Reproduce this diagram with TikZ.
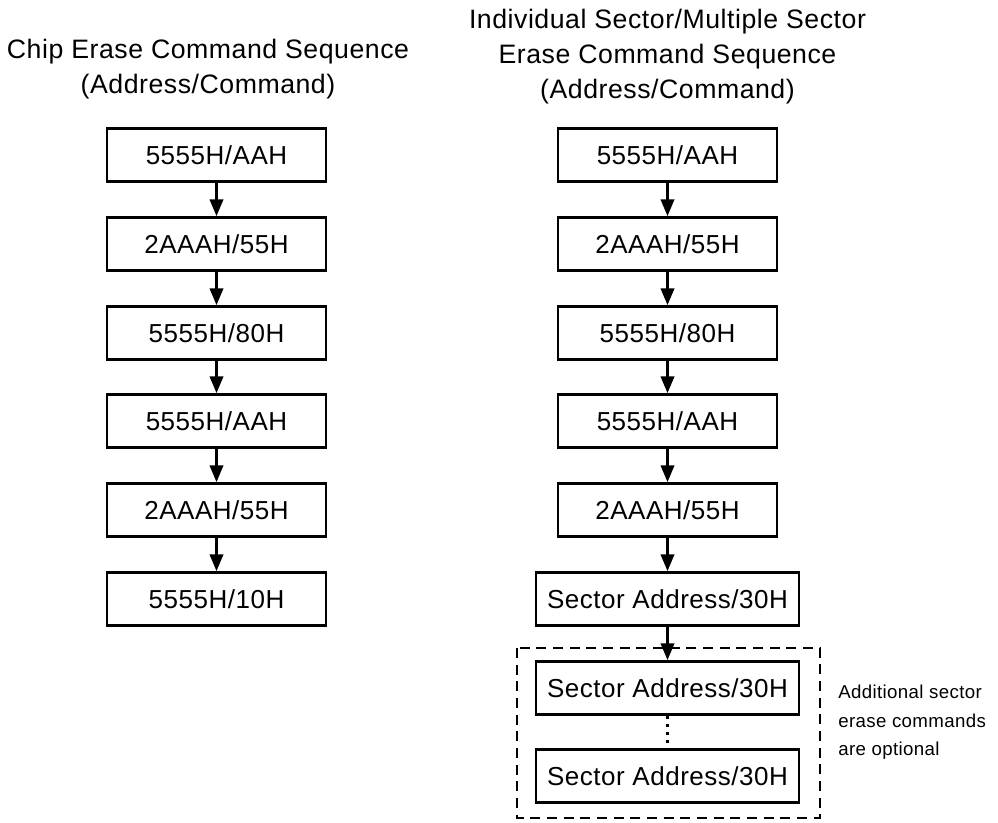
\documentclass[tikz,border=0pt]{standalone}
\usepackage{fontspec}
\setmainfont{Liberation Sans}[LetterSpace=2]
\usetikzlibrary{arrows.meta}
\tikzset{
  cmd/.style={draw, line width=1.8pt, minimum width=164pt, minimum height=40pt, inner sep=0pt, font=\fontsize{19.5}{23}\selectfont},
  sectorcmd/.style={cmd, minimum width=197pt},
  flow/.style={line width=1.8pt, -{Triangle[width=10pt,length=12.5pt]}},
  title/.style={anchor=base, inner sep=0pt, font=\fontsize{20}{24}\selectfont},
  note/.style={anchor=base west, inner sep=0pt, font=\fontsize{14}{17}\selectfont}
}
\begin{document}
\begin{tikzpicture}[x=0.75pt,y=-0.75pt]
\useasboundingbox (0,0) rectangle (998,823);
\node[title] (chiptitle) at (208,59) {Chip Erase Command Sequence};
\node[title] (chipsub) at (208,94) {(Address/Command)};
\node[title] (sectortitle) at (667.5,29) {Individual Sector/Multiple Sector};
\node[title] (sectortitleb) at (667.5,64) {Erase Command Sequence};
\node[title] (sectorsub) at (667.5,99) {(Address/Command)};

\node[cmd] (c1) at (216.5,155) {5555H/AAH};
\node[cmd] (c2) at (216.5,244) {2AAAH/55H};
\node[cmd] (c3) at (216.5,333) {5555H/80H};
\node[cmd] (c4) at (216.5,421) {5555H/AAH};
\node[cmd] (c5) at (216.5,510) {2AAAH/55H};
\node[cmd] (c6) at (216.5,599) {5555H/10H};
\draw[flow] (c1) -- (c2);
\draw[flow] (c2) -- (c3);
\draw[flow] (c3) -- (c4);
\draw[flow] (c4) -- (c5);
\draw[flow] (c5) -- (c6);

\node[cmd] (s1) at (667.5,155) {5555H/AAH};
\node[cmd] (s2) at (667.5,244) {2AAAH/55H};
\node[cmd] (s3) at (667.5,333) {5555H/80H};
\node[cmd] (s4) at (667.5,421) {5555H/AAH};
\node[cmd] (s5) at (667.5,510) {2AAAH/55H};
\node[sectorcmd] (s6) at (667.5,599) {Sector Address/30H};
\node[sectorcmd] (s7) at (667.5,688) {Sector Address/30H};
\node[sectorcmd] (s8) at (667.5,776) {Sector Address/30H};
\draw[line width=2pt, dash pattern=on 7.5pt off 5pt] (517,648) rectangle (820,818);
\draw[flow] (s1) -- (s2);
\draw[flow] (s2) -- (s3);
\draw[flow] (s3) -- (s4);
\draw[flow] (s4) -- (s5);
\draw[flow] (s5) -- (s6);
\draw[flow] (s6) -- (s7);
\draw[line width=2pt, dash pattern=on 2pt off 4pt] (s7) -- (s8);

\node[note] (notea) at (838,698) {Additional sector};
\node[note] (noteb) at (838,727) {erase commands};
\node[note] (notec) at (838,755) {are optional};
\end{tikzpicture}
\end{document}
